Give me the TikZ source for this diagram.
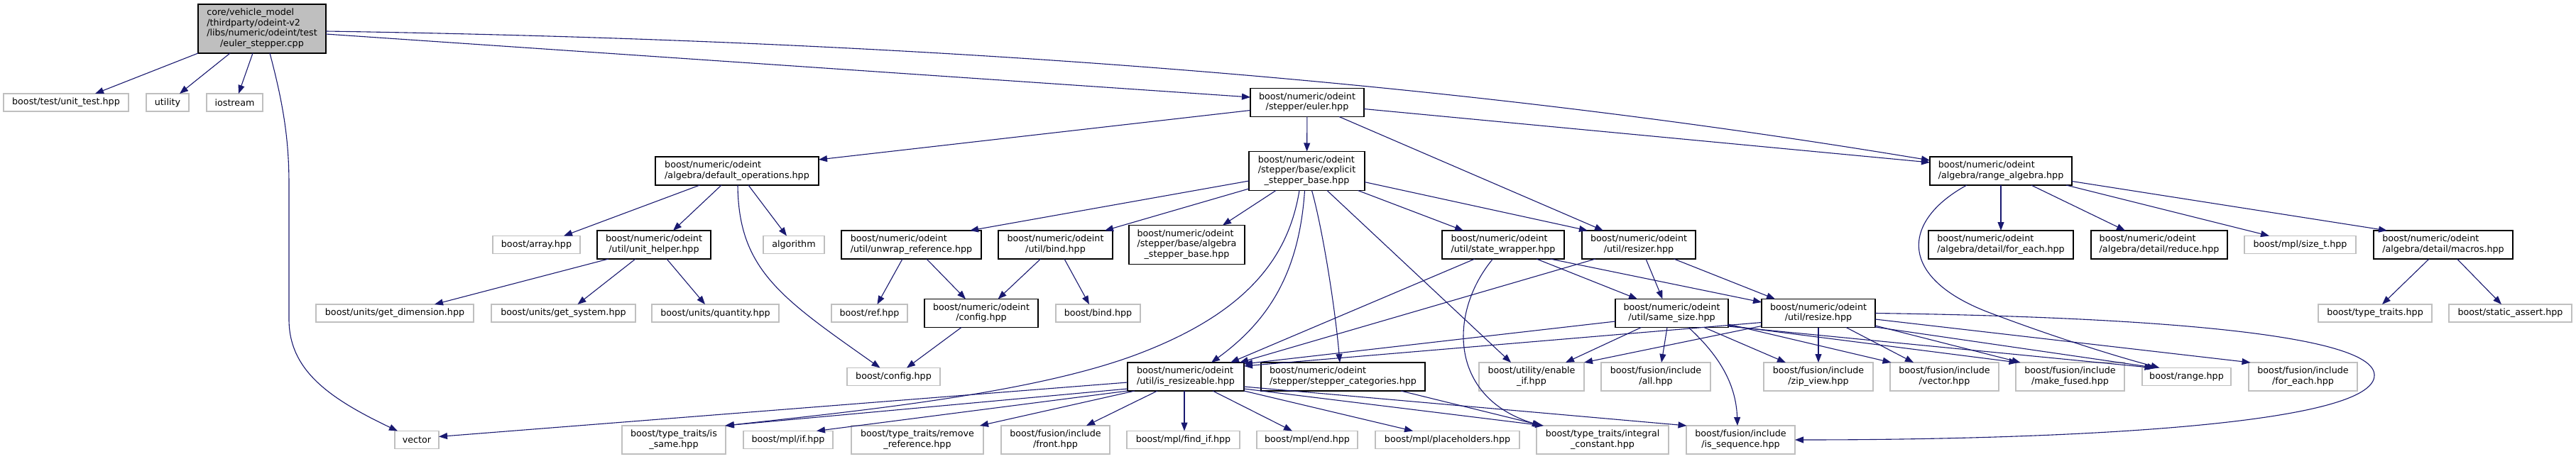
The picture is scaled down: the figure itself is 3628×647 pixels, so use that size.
\documentclass[tikz,border=0pt]{standalone}
\usepackage{fontspec}
\setmainfont{DejaVu Sans}
\usetikzlibrary{arrows.meta}
\definecolor{edgec}{HTML}{191970}
\definecolor{grayb}{HTML}{BFBFBF}
\newcommand{\tl}[2]{\begin{tabular}{@{}l@{}}#1\\\multicolumn{1}{@{}c@{}}{#2}\end{tabular}}
\newcommand{\nd}[7]{\node[#6,minimum width={(#3-#2)*1pt},minimum height={#5*1pt}] (#1) at ({(#2+#3)/2},#4) {#7};}
\tikzset{
  base/.style={rectangle,inner sep=0pt,outer sep=0pt,line width=1.1pt,fill=white,
    font=\fontsize{12.7}{14.6}\selectfont},
  docn/.style={base,draw=black},
  extn/.style={base,draw=grayb},
  rootn/.style={base,draw=black,fill=grayb},
  e/.style={draw=edgec,line width=1.1pt,-{Triangle[length=12pt,width=9pt]},fill=none}
}
\begin{document}
\begin{tikzpicture}[x=1pt,y=-1pt]
\useasboundingbox[fill=white] (0,0) rectangle (3628,647);
% row A
\nd{root}{279}{459}{40.5}{69}{rootn}{\tl{core/vehicle\_model\\/thirdparty/odeint-v2\\/libs/numeric/odeint/test}{/euler\_stepper.cpp}}
% row B
\nd{unittest}{5}{181}{144.5}{25}{extn}{boost/test/unit\_test.hpp}
\nd{utility}{206}{266}{144.5}{25}{extn}{utility}
\nd{iostream}{291}{370}{144.5}{25}{extn}{iostream}
\nd{euler}{1761}{1921}{144.5}{40}{docn}{\tl{boost/numeric/odeint}{/stepper/euler.hpp}}
% row C
\nd{defops}{923}{1153}{241}{40}{docn}{\tl{boost/numeric/odeint}{/algebra/default\_operations.hpp}}
\nd{expl}{1759}{1922}{241}{55}{docn}{\tl{boost/numeric/odeint\\/stepper/base/explicit}{\_stepper\_base.hpp}}
\nd{rangealg}{2718}{2918}{241}{40}{docn}{\tl{boost/numeric/odeint}{/algebra/range\_algebra.hpp}}
% row D
\nd{array}{694}{817}{345}{25}{extn}{boost/array.hpp}
\nd{unithelper}{841}{1001}{345}{40}{docn}{\tl{boost/numeric/odeint}{/util/unit\_helper.hpp}}
\nd{algorithm}{1075}{1161}{345}{25}{extn}{algorithm}
\nd{unwrap}{1185}{1382}{345}{40}{docn}{\tl{boost/numeric/odeint}{/util/unwrap\_reference.hpp}}
\nd{ubind}{1406}{1567}{345}{40}{docn}{\tl{boost/numeric/odeint}{/util/bind.hpp}}
\nd{algstep}{1590}{1753}{345}{55}{docn}{\tl{boost/numeric/odeint\\/stepper/base/algebra}{\_stepper\_base.hpp}}
\nd{statewrap}{2031}{2203}{345}{40}{docn}{\tl{boost/numeric/odeint}{/util/state\_wrapper.hpp}}
\nd{resizer}{2228}{2388}{345}{40}{docn}{\tl{boost/numeric/odeint}{/util/resizer.hpp}}
\nd{foreach}{2716}{2920}{345}{40}{docn}{\tl{boost/numeric/odeint}{/algebra/detail/for\_each.hpp}}
\nd{reduce}{2945}{3137}{345}{40}{docn}{\tl{boost/numeric/odeint}{/algebra/detail/reduce.hpp}}
\nd{sizet}{3161}{3318}{345}{25}{extn}{boost/mpl/size\_t.hpp}
\nd{macros}{3343}{3539}{345}{40}{docn}{\tl{boost/numeric/odeint}{/algebra/detail/macros.hpp}}
% row E
\nd{getdim}{445}{667}{441.5}{25}{extn}{boost/units/get\_dimension.hpp}
\nd{getsys}{692}{895}{441.5}{25}{extn}{boost/units/get\_system.hpp}
\nd{quantity}{918}{1097}{441.5}{25}{extn}{boost/units/quantity.hpp}
\nd{ref}{1171}{1278}{441.5}{25}{extn}{boost/ref.hpp}
\nd{config}{1302}{1462}{441.5}{40}{docn}{\tl{boost/numeric/odeint}{/config.hpp}}
\nd{bbind}{1487}{1606}{441.5}{25}{extn}{boost/bind.hpp}
\nd{samesize}{2275}{2434}{441.5}{40}{docn}{\tl{boost/numeric/odeint}{/util/same\_size.hpp}}
\nd{resize}{2481}{2641}{441.5}{40}{docn}{\tl{boost/numeric/odeint}{/util/resize.hpp}}
\nd{typetraits}{3265}{3425}{441.5}{25}{extn}{boost/type\_traits.hpp}
\nd{staticassert}{3449}{3622}{441.5}{25}{extn}{boost/static\_assert.hpp}
% row F
\nd{bconfig}{1193}{1324}{531}{25}{extn}{boost/config.hpp}
\nd{isresize}{1588}{1752}{531}{40}{docn}{\tl{boost/numeric/odeint}{/util/is\_resizeable.hpp}}
\nd{stepcat}{1776}{2007}{531}{40}{docn}{\tl{boost/numeric/odeint}{/stepper/stepper\_categories.hpp}}
\nd{enableif}{2083}{2231}{531}{40}{extn}{\tl{boost/utility/enable}{\_if.hpp}}
\nd{fall}{2255}{2409}{531}{40}{extn}{\tl{boost/fusion/include}{/all.hpp}}
\nd{zipview}{2484}{2638}{531}{40}{extn}{\tl{boost/fusion/include}{/zip\_view.hpp}}
\nd{fvector}{2662}{2815}{531}{40}{extn}{\tl{boost/fusion/include}{/vector.hpp}}
\nd{makefused}{2839}{2992}{531}{40}{extn}{\tl{boost/fusion/include}{/make\_fused.hpp}}
\nd{range}{3017}{3142}{531}{25}{extn}{boost/range.hpp}
\nd{fforeach}{3167}{3320}{531}{40}{extn}{\tl{boost/fusion/include}{/for\_each.hpp}}
% row G
\nd{vector}{556}{618}{620}{25}{extn}{vector}
\nd{issame}{876}{1022}{620}{40}{extn}{\tl{boost/type\_traits/is}{\_same.hpp}}
\nd{mplif}{1047}{1173}{620}{25}{extn}{boost/mpl/if.hpp}
\nd{removeref}{1199}{1385}{620}{40}{extn}{\tl{boost/type\_traits/remove}{\_reference.hpp}}
\nd{front}{1410}{1563}{620}{40}{extn}{\tl{boost/fusion/include}{/front.hpp}}
\nd{findif}{1587}{1746}{620}{25}{extn}{boost/mpl/find\_if.hpp}
\nd{mplend}{1770}{1912}{620}{25}{extn}{boost/mpl/end.hpp}
\nd{placeholders}{1937}{2140}{620}{25}{extn}{boost/mpl/placeholders.hpp}
\nd{integral}{2164}{2350}{620}{40}{extn}{\tl{boost/type\_traits/integral}{\_constant.hpp}}
\nd{isseq}{2375}{2528}{620}{40}{extn}{\tl{boost/fusion/include}{/is\_sequence.hpp}}
% edges: root
\draw[e] ([xshift=-90]root.south) -- ([xshift=41]unittest.north);
\draw[e] ([xshift=-45]root.south) -- ([xshift=17]utility.north);
\draw[e] ([xshift=-13]root.south) -- ([xshift=5.5]iostream.north);
\draw[e] ([xshift=11]root.south) .. controls (400,150) and (407,200) .. (407,260) -- (407,450) .. controls (407,520) and (460,560) .. ([xshift=-27]vector.north);
\draw[e] ([yshift=-7.5]root.east) -- ([yshift=7.5]euler.west);
\draw[e] ([yshift=-3.5]root.east) .. controls (1500,60) and (2200,140) .. ([yshift=15]rangealg.west);
% euler
\draw[e] (euler) -- (expl);
\draw[e] ([yshift=-11]euler.west) -- ([yshift=16]defops.east);
\draw[e] ([yshift=-9]euler.east) -- ([yshift=12]rangealg.west);
\draw[e] ([xshift=45]euler.south) -- ([xshift=-50]resizer.north);
% default operations
\draw[e] ([xshift=-52.5]defops.south) -- ([xshift=38.5]array.north);
\draw[e] ([xshift=-22]defops.south) -- ([xshift=27]unithelper.north);
\draw[e] ([xshift=16]defops.south) -- ([xshift=-10]algorithm.north);
\draw[e] ([xshift=1]defops.south) .. controls (1040,380) and (1100,420) .. ([xshift=-19]bconfig.north);
\draw[e] ([xshift=-64]unithelper.south) -- ([xshift=56]getdim.north);
\draw[e] ([xshift=-26]unithelper.south) -- ([xshift=20]getsys.north);
\draw[e] ([xshift=18]unithelper.south) -- ([xshift=-14.5]quantity.north);
% explicit stepper base
\draw[e] ([yshift=-14]expl.west) -- ([xshift=82.5]unwrap.north);
\draw[e] ([yshift=-25]expl.west) -- ([xshift=69.5]ubind.north);
\draw[e] ([xshift=-43.5]expl.south) -- ([xshift=50.5]algstep.north);
\draw[e] ([xshift=-10.5]expl.south) .. controls (1815,360) and (1760,440) .. (1600,500) .. controls (1450,556) and (1200,580) .. (issame.north east);
\draw[e] ([xshift=-3]expl.south) .. controls (1830,380) and (1790,450) .. ([xshift=36]isresize.north);
\draw[e] ([xshift=7]expl.south) .. controls (1862,320) and (1880,430) .. ([xshift=-4.5]stepcat.north);
\draw[e] ([xshift=28.5]expl.south) -- ([xshift=-29]enableif.north);
\draw[e] ([xshift=72]expl.south) -- ([xshift=-56]statewrap.north);
\draw[e] ([yshift=-15.6]expl.east) -- ([xshift=-72]resizer.north);
% unwrap, bind, config
\draw[e] ([xshift=-12.5]unwrap.south) -- ([xshift=11]ref.north);
\draw[e] ([xshift=21.5]unwrap.south) -- ([xshift=-22]config.north);
\draw[e] ([xshift=-21]ubind.south) -- ([xshift=23.6]config.north);
\draw[e] ([xshift=12.5]ubind.south) -- ([xshift=-12.5]bbind.north);
\draw[e] ([xshift=-28]config.south) -- ([xshift=18.5]bconfig.north);
% state wrapper
\draw[e] ([xshift=-40]statewrap.south) -- ([xshift=63]isresize.north);
\draw[e] ([xshift=-14.5]statewrap.south) .. controls (2040,440) and (2040,560) .. ([xshift=-87]integral.north);
\draw[e] ([xshift=47]statewrap.south) -- ([xshift=-48.5]samesize.north);
\draw[e] ([xshift=66.5]statewrap.south) -- ([yshift=15.5]resize.west);
% resizer
\draw[e] ([xshift=-61]resizer.south) -- ([xshift=76]isresize.north);
\draw[e] ([xshift=10]resizer.south) -- ([xshift=-13]samesize.north);
\draw[e] ([xshift=49.5]resizer.south) -- ([xshift=-61]resize.north);
% same size
\draw[e] ([yshift=-11.5]samesize.west) -- ([yshift=-2]isresize.north east);
\draw[e] ([xshift=-43]samesize.south) -- ([xshift=48]enableif.north);
\draw[e] ([xshift=-6.5]samesize.south) -- ([xshift=8]fall.north);
\draw[e] ([xshift=23.5]samesize.south) .. controls (2420,500) and (2445,540) .. ([xshift=-4.5]isseq.north);
\draw[e] ([xshift=45.5]samesize.south) -- ([xshift=-46]zipview.north);
\draw[e] ([yshift=-15.5]samesize.east) -- ([xshift=-75]fvector.north);
\draw[e] ([yshift=-17.5]samesize.east) -- ([xshift=-74]makefused.north);
\draw[e] ([yshift=-18.5]samesize.east) -- ([xshift=-47]range.north);
% resize
\draw[e] ([yshift=-13]resize.west) -- ([yshift=-5]isresize.north east);
\draw[e] ([yshift=-18]resize.west) -- (enableif.north east);
\draw[e] (resize) -- (zipview);
\draw[e] ([xshift=39]resize.south) -- ([xshift=-43.5]fvector.north);
\draw[e] ([yshift=-17.5]resize.east) -- ([xshift=-70]makefused.north);
\draw[e] ([yshift=-19.5]resize.east) -- ([xshift=-43]range.north);
\draw[e] ([yshift=-8.5]resize.east) -- ([xshift=-74]fforeach.north);
\draw[e] (resize.east) .. controls (2900,445) and (3340,460) .. (3344,528) .. controls (3348,600) and (2900,620) .. (isseq.east);
% range algebra
\draw[e] ([xshift=-48]rangealg.south) .. controls (2680,310) and (2670,390) .. (2800,440) .. controls (2900,478) and (2990,505) .. ([xshift=-38]range.north);
\draw[e] (rangealg) -- (foreach);
\draw[e] ([xshift=42.7]rangealg.south) -- ([xshift=-48]reduce.north);
\draw[e] ([xshift=92]rangealg.south) -- ([xshift=-43.5]sizet.north);
\draw[e] ([yshift=-14.5]rangealg.east) -- ([xshift=-79]macros.north);
\draw[e] ([xshift=-20]macros.south) -- ([xshift=10]typetraits.north);
\draw[e] ([xshift=19.5]macros.south) -- ([xshift=-12.5]staticassert.north);
% is_resizeable
\draw[e] ([yshift=-8]isresize.west) -- ([yshift=4.5]vector.east);
\draw[e] ([yshift=-17]isresize.west) -- ([xshift=-1]issame.north east);
\draw[e] (isresize.south west) -- ([xshift=40]mplif.north);
\draw[e] ([xshift=10]isresize.south west) -- ([xshift=-5]removeref.north east);
\draw[e] ([xshift=-40]isresize.south) -- ([xshift=43.5]front.north);
\draw[e] ([xshift=-2]isresize.south) -- ([xshift=1.5]findif.north);
\draw[e] ([xshift=38]isresize.south) -- ([xshift=-21]mplend.north);
\draw[e] (isresize.south east) -- ([xshift=-48.5]placeholders.north);
\draw[e] ([yshift=-17]isresize.east) -- ([xshift=-83]integral.north);
\draw[e] ([yshift=-14]isresize.east) -- ([xshift=-76]isseq.north);
\draw[e] ([xshift=81.5]stepcat.south) -- ([xshift=-85]integral.north);
\end{tikzpicture}
\end{document}
